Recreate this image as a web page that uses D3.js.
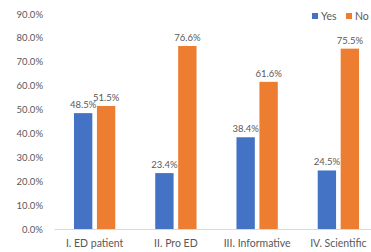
<!DOCTYPE html>
<html><head><meta charset="utf-8">
<script src="https://cdn.jsdelivr.net/npm/d3@7"></script>
<style>html,body{margin:0;padding:0;background:#fff;overflow:hidden}</style>
</head><body>
<svg id="c" width="371" height="252"></svg>
<script>
const categories = ["I. ED patient", "II. Pro ED", "III. Informative", "IV. Scientific"];
const seriesNames = ["Yes", "No"];
const yesValues = [48.5, 23.4, 38.4, 24.5];
const noValues = [51.5, 76.6, 61.6, 75.5];
const yTicks = [0, 10, 20, 30, 40, 50, 60, 70, 80, 90];
const colors = ["#4472C4", "#ED7D31"];

const svg = d3.select("#c");
const font = "Lato, 'Open Sans', sans-serif";
const textColor = "#595959";
const mLeft = 54, mRight = 379, mTop = 14, mBottom = 229;

const x = d3.scaleBand().domain(categories).range([mLeft, mRight]).paddingInner(0).paddingOuter(0);
const xs = d3.scaleBand().domain(seriesNames).range([0, x.bandwidth()]).paddingInner(0.2).paddingOuter(0.87);
const y = d3.scaleLinear().domain([0, 90]).range([mBottom, mTop]);

// y axis labels
const yAxis = d3.axisLeft(y).tickValues(yTicks).tickFormat(d => d.toFixed(1) + "%").tickSize(0).tickPadding(11);
const gy = svg.append("g").attr("transform", `translate(${mLeft},0)`).call(yAxis);
gy.select(".domain").remove();
gy.selectAll("text").attr("fill", textColor).style("font-family", font).style("font-size", "9.5px");

// x axis
const xAxis = d3.axisBottom(x).tickSize(0).tickPadding(11);
const gx = svg.append("g").attr("transform", `translate(0,${mBottom})`).call(xAxis);
gx.select(".domain").attr("stroke", "#D9D9D9");
gx.selectAll("text").attr("fill", textColor).style("font-family", font).style("font-size", "10.5px");

const data = categories.map((c, i) => ({cat: c, vals: [yesValues[i], noValues[i]]}));
const groups = svg.append("g").selectAll("g").data(data).join("g")
  .attr("transform", d => `translate(${x(d.cat)},0)`);
groups.selectAll("rect").data(d => d.vals.map((v, j) => ({s: seriesNames[j], v, j}))).join("rect")
  .attr("x", d => xs(d.s)).attr("width", xs.bandwidth())
  .attr("y", d => y(d.v)).attr("height", d => y(0) - y(d.v))
  .attr("fill", d => colors[d.j]);
groups.selectAll("text").data(d => d.vals.map((v, j) => ({s: seriesNames[j], v, j}))).join("text")
  .attr("x", d => xs(d.s) + xs.bandwidth() / 2).attr("y", d => y(d.v) - 5)
  .attr("text-anchor", "middle").attr("fill", textColor)
  .style("font-family", font).style("font-size", "9.5px")
  .text(d => d.v.toFixed(1) + "%");

// legend
const legend = svg.append("g");
const lx = [312, 346];
seriesNames.forEach((s, i) => {
  legend.append("rect").attr("x", lx[i]).attr("y", 13).attr("width", 6).attr("height", 6).attr("fill", colors[i]);
  legend.append("text").attr("x", lx[i] + 9).attr("y", 20).attr("fill", textColor)
    .style("font-family", font).style("font-size", "10.5px").text(s);
});
</script>
</body></html>
